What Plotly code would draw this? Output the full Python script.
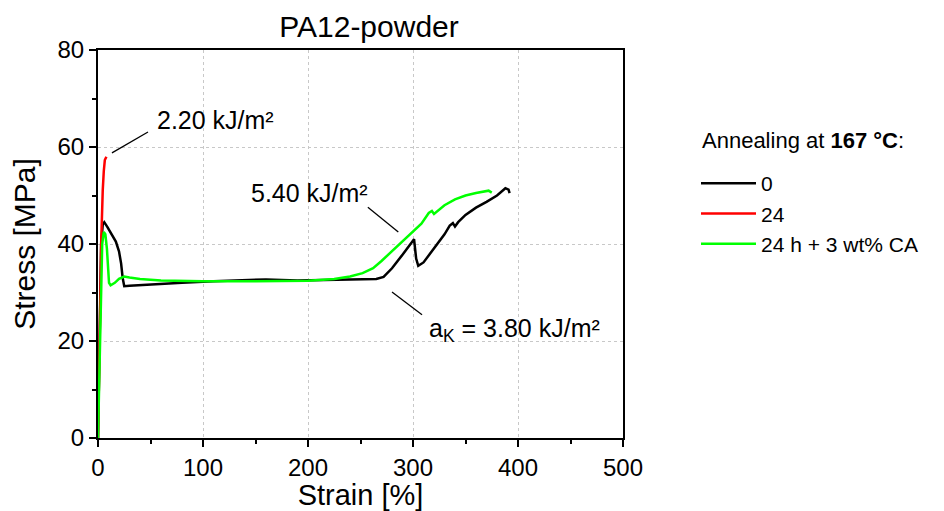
import plotly.graph_objects as go

# ---- data ----
strain_0 = [0, 1, 2, 3, 4.5, 6, 9, 13, 17, 20, 22, 23.5, 25, 30, 50, 80, 110, 140, 160, 190, 220, 250,
            265, 272, 280, 290, 297, 301, 303, 305, 310, 320, 330, 335, 338, 340, 343, 350, 360, 370,
            380, 388, 391, 392]
stress_0 = [0, 15, 30, 40, 44, 44.5, 43.5, 42, 40.5, 38.5, 36, 33, 31.3, 31.4, 31.7, 32.0, 32.3, 32.6,
            32.7, 32.5, 32.6, 32.6, 32.8, 33.2, 35, 37.8, 40, 41, 37, 35.5, 36.2, 39, 42, 43.8, 44.3,
            43.6, 44.5, 46, 47.5, 48.7, 50, 51.5, 51.2, 50.5]

strain_24 = [0, 1, 2, 2.5, 3, 3.5, 4.5, 5.5, 6.5, 8]
stress_24 = [0, 10, 22, 32, 40, 46, 51, 55, 57.3, 58]

strain_ca = [0, 1, 2, 3, 4, 5.5, 7, 8.5, 9.5, 10.5, 12, 16, 20, 25, 30, 40, 60, 100, 150, 200, 225,
             240, 252, 262, 270, 280, 290, 300, 308, 315, 318, 320, 323, 330, 340, 350, 360, 368,
             372, 375]
stress_ca = [0, 10, 22, 33, 40, 42.5, 42, 39, 35, 32, 31.5, 32, 32.8, 33.3, 33.1, 32.8, 32.5, 32.3,
             32.3, 32.4, 32.8, 33.3, 34, 35, 36.5, 38.5, 40.6, 42.6, 44.2, 46.4, 46.8, 46.2, 46.8,
             48, 49.2, 50, 50.5, 50.9, 51, 50.6]

series_names = ["0", "24", "24 h + 3 wt% CA"]
series_colors = ["#000000", "#ff0000", "#00ff00"]

x_ticks = [0, 100, 200, 300, 400, 500]
y_ticks = [0, 20, 40, 60, 80]

energy_labels = ["2.20 kJ/m²", "5.40 kJ/m²", "a<sub>K</sub> = 3.80 kJ/m²"]

FONT = "Arial, Liberation Sans, sans-serif"

# figure / plot-area geometry (page body adds an 8px offset)
W, H = 936, 503
L, T = 90, 42
R = W - 615
B = H - 430
PW, PH = W - L - R, H - T - B

fig = go.Figure()
for xs, ys, name, col in zip([strain_0, strain_24, strain_ca], [stress_0, stress_24, stress_ca],
                             series_names, series_colors):
    fig.add_trace(go.Scatter(x=xs, y=ys, mode="lines", name=name,
                             line=dict(color=col, width=2.5)))

# pointer lines for the energy labels
pointers = [((13.3, 58.8), (47.6, 63.1)),
            ((257, 47.6), (286, 42.5)),
            ((280, 30.1), (308.6, 25.4))]
for (x0, y0), (x1, y1) in pointers:
    fig.add_shape(type="line", x0=x0, y0=y0, x1=x1, y1=y1, xref="x", yref="y",
                  line=dict(color="black", width=1.3))

label_pos = [(112, 65.6), (201, 50.5), (397, 22.3)]
for txt, (lx, ly) in zip(energy_labels, label_pos):
    fig.add_annotation(x=lx, y=ly, xref="x", yref="y", text=txt, showarrow=False,
                       font=dict(family=FONT, size=25, color="black"))

# legend title
fig.add_annotation(x=(692 - L) / PW, y=(H - B - 132) / PH, xref="paper", yref="paper",
                   text="Annealing at <b>167 °C</b>:", showarrow=False,
                   xanchor="left", yanchor="middle",
                   font=dict(family=FONT, size=22, color="black"))

axis_common = dict(showline=True, linecolor="black", linewidth=2, mirror=True,
                   ticks="outside", ticklen=7, tickwidth=2, tickcolor="black",
                   showgrid=True, gridcolor="#c8c8c8", griddash="dot", gridwidth=1,
                   zeroline=False, automargin=False,
                   tickfont=dict(family=FONT, size=24, color="black"),
                   minor=dict(ticks="outside", ticklen=4, tickwidth=2, tickcolor="black", showgrid=False))

fig.update_xaxes(range=[0, 500], tickvals=x_ticks, title=dict(text="Strain [%]", standoff=0,
                 font=dict(family=FONT, size=29, color="black")),
                 minor_dtick=50, **axis_common)
fig.update_yaxes(range=[0, 80], tickvals=y_ticks, title=dict(text="Stress [MPa]", standoff=18,
                 font=dict(family=FONT, size=30, color="black")),
                 minor_dtick=10, **axis_common)

fig.update_layout(
    width=W, height=H,
    margin=dict(l=L, r=R, t=T, b=B, autoexpand=False),
    plot_bgcolor="white", paper_bgcolor="white",
    title=dict(text="PA12-powder", x=361 / W, xanchor="center", y=1 - 18 / H,
               yanchor="middle", font=dict(family=FONT, size=30, color="black")),
    legend=dict(x=688 / W, y=1 - 155 / H, xref="container", yref="container",
                xanchor="left", yanchor="top",
                font=dict(family=FONT, size=21, color="black"),
                bgcolor="rgba(0,0,0,0)", tracegroupgap=0, itemwidth=55),
    showlegend=True,
)

fig.write_html("out.html")
